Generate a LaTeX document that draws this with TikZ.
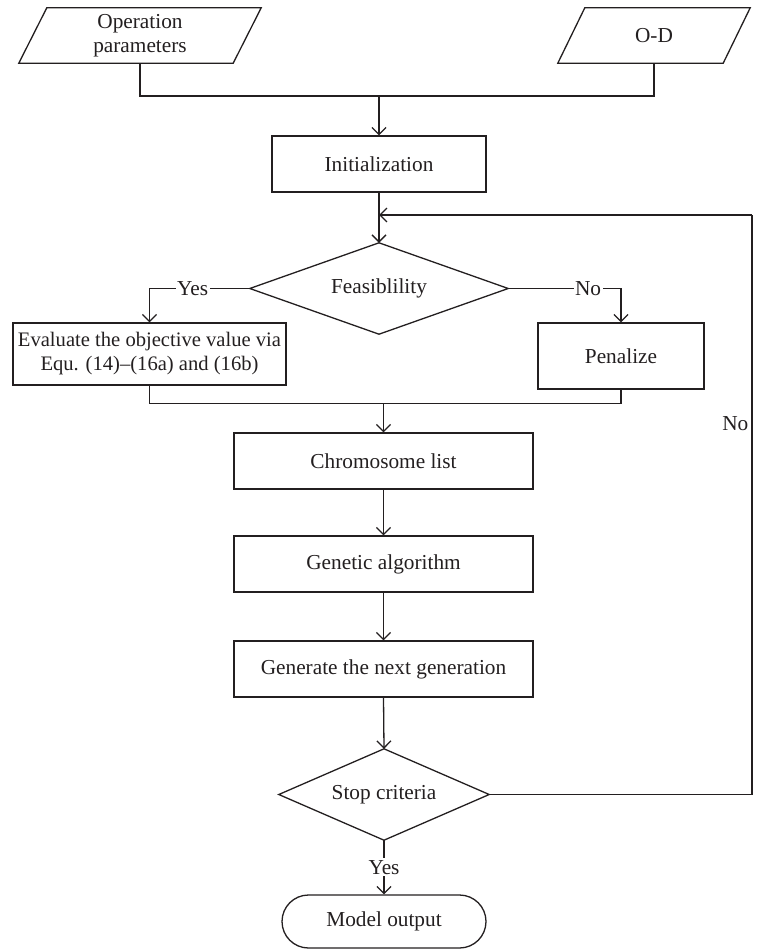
\documentclass[tikz,border=0pt]{standalone}
\usepackage{fontspec}
\setmainfont{Liberation Serif}
\usetikzlibrary{arrows.meta,calc}
\definecolor{ink}{HTML}{231F20}
\begin{document}
\begin{tikzpicture}[x=1pt,y=-1pt,
  every node/.style={font=\fontsize{21.3}{24}\selectfont, text=ink, inner sep=0pt, align=center},
  ln/.style={draw=ink, line width=1.3pt},
  arr/.style={ln, -{Straight Barb[length=7pt,width=14pt,line width=1.3pt]}},
  box/.style={draw=ink, line width=1.3pt, rectangle},
  inv/.style={rectangle, draw=none},
  lbl/.style={fill=white, inner xsep=1.5pt, inner ysep=2pt}
]
\useasboundingbox (0,0) rectangle (761,949);
% inputs
\node[inv, minimum width=214, minimum height=55] (op) at (140,35.5) {Operation\\parameters};
\draw[ln] ($(op.north west)+(14,0)$) -- ($(op.north east)+(14,0)$) -- ($(op.south east)+(-14,0)$) -- ($(op.south west)+(-14,0)$) -- cycle;
\node[inv, minimum width=165, minimum height=55] (od) at (654,35.5) {O-D};
\draw[ln] ($(od.north west)+(13.5,0)$) -- ($(od.north east)+(13.5,0)$) -- ($(od.south east)+(-13.5,0)$) -- ($(od.south west)+(-13.5,0)$) -- cycle;
% boxes
\node[box, minimum width=214, minimum height=56] (init) at (379,164) {Initialization};
\node[inv, minimum width=258, minimum height=91] (feas) at (379,288.5) {Feasiblility};
\draw[ln] (feas.north) -- (feas.east) -- (feas.south) -- (feas.west) -- cycle;
\node[box, minimum width=273, minimum height=62, font=\fontsize{20.6}{24}\selectfont] (eval) at (149.5,354) {Evaluate the objective value via\\Equ. (14)--(16a) and (16b)};
\node[box, minimum width=166, minimum height=66] (pen) at (621,356) {Penalize};
\node[box, minimum width=299, minimum height=56] (chrom) at (383.5,461) {Chromosome list};
\node[box, minimum width=299, minimum height=56] (ga) at (383.5,564) {Genetic algorithm};
\node[box, minimum width=299, minimum height=56] (gen) at (383.5,669) {Generate the next generation};
\node[inv, minimum width=210, minimum height=91] (stop) at (384,794.5) {Stop criteria};
\draw[ln] (stop.north) -- (stop.east) -- (stop.south) -- (stop.west) -- cycle;
\node[box, minimum width=204, minimum height=53, rounded corners=26.5pt] (out) at (384,921.5) {Model output};
% junctions
\coordinate (j1) at (379,96);
\coordinate (j2) at (383.5,403.5);
\coordinate (loopin) at (379,215);
\coordinate (rc) at (752,215);
% connectors
\draw[ln] (op.south) |- (j1);
\draw[ln] (od.south) |- (j1);
\draw[arr] (j1) -- (init.north);
\draw[arr] (init.south) -- (feas.north);
\draw[arr] (feas.west) -| node[lbl, pos=0.285] {Yes} (eval.north);
\draw[arr] (feas.east) -| node[lbl, pos=0.354] {No} (pen.north);
\draw[ln] (eval.south) |- (j2);
\draw[ln] (pen.south) |- (j2);
\draw[arr] (j2) -- (chrom.north);
\draw[arr] (chrom.south) -- (ga.north);
\draw[arr] (ga.south) -- (gen.north);
\draw[arr] (gen.south) -- (stop.north);
\draw[arr] (stop.south) -- node[lbl] {Yes} (out.north);
\draw[ln] (stop.east) -| node[pos=0.82, anchor=east, xshift=-3pt] {No} (rc);
\draw[arr] (rc) -- (loopin);
\end{tikzpicture}
\end{document}
